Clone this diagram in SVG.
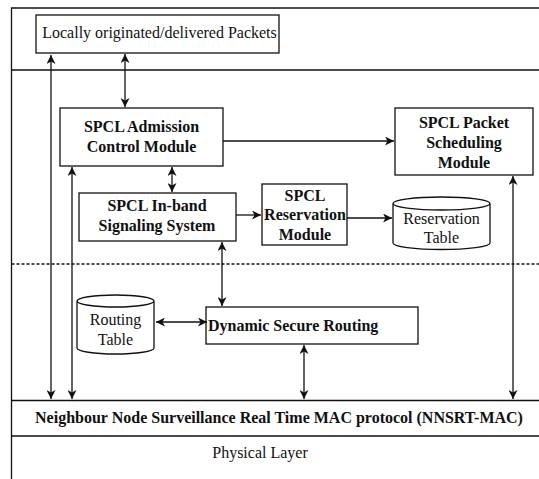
<svg xmlns="http://www.w3.org/2000/svg" width="539" height="479" viewBox="0 0 539 479">
<defs>
<marker id="ah" markerUnits="userSpaceOnUse" markerWidth="10" markerHeight="9" refX="9" refY="4.5" orient="auto-start-reverse">
<path d="M0,0 L9,4.5 L0,9 L2.5,4.5 z" fill="#111"/>
</marker>
</defs>
<style>
.ln{stroke:#111;stroke-width:1.3;fill:none}
.bx{stroke:#111;stroke-width:1.3;fill:#fff}
.c{stroke:#111;stroke-width:1.3;fill:none;marker-end:url(#ah)}
.d{marker-start:url(#ah)}
text{font-family:"Liberation Serif","Times New Roman",serif;font-size:16px;fill:#111;text-anchor:middle;dominant-baseline:central}
.b{font-weight:bold}
</style>
<rect width="539" height="479" fill="#fff"/>
<g id="frame">
<path class="ln" d="M11.5,479 V8 H539 M11.5,70 H539 M11.5,400.5 H539 M11.5,436 H539"/>
<path class="ln" d="M11.5,264 H539" stroke-dasharray="3,2"/>
</g>
<g id="locally"><rect class="bx" x="36" y="15" width="243" height="38"/><text x="159.5" y="32">Locally originated/delivered Packets</text></g>
<g id="admission"><rect class="bx" x="60" y="108" width="163" height="58"/><text class="b" x="141.5" y="126">SPCL Admission</text><text class="b" x="141.5" y="146">Control Module</text></g>
<g id="inband"><rect class="bx" x="79" y="193" width="157" height="48"/><text class="b" x="157" y="205">SPCL In-band</text><text class="b" x="157" y="225">Signaling System</text></g>
<g id="reservation"><rect class="bx" x="262" y="184" width="85" height="61"/><text class="b" x="305" y="195">SPCL</text><text class="b" x="305" y="214">Reservation</text><text class="b" x="305" y="234">Module</text></g>
<g id="restable"><path class="bx" d="M393,203.5 V243 A48.5,6.5 0 0 0 490,243 V203.5 A48.5,6.5 0 0 0 393,203.5 A48.5,6.5 0 0 0 490,203.5"/><text x="441.5" y="218">Reservation</text><text x="441.5" y="237">Table</text></g>
<g id="scheduling"><rect class="bx" x="395" y="108" width="138" height="67"/><text class="b" x="464" y="122">SPCL Packet</text><text class="b" x="464" y="142">Scheduling</text><text class="b" x="464" y="162">Module</text></g>
<g id="routingtable"><path class="bx" d="M77,301 V348 A38.5,6 0 0 0 154,348 V301 A38.5,6 0 0 0 77,301 A38.5,6 0 0 0 154,301"/><text x="115.5" y="319">Routing</text><text x="115.5" y="339">Table</text></g>
<g id="dynamic"><rect class="bx" x="206" y="307" width="212" height="37"/><text class="b" x="208" y="325" style="text-anchor:start">Dynamic Secure Routing</text></g>
<g id="mac"><text class="b" x="279" y="417">Neighbour Node Surveillance Real Time MAC protocol (NNSRT-MAC)</text></g>
<g id="physical"><text x="260" y="452">Physical Layer</text></g>
<g id="connectors">
<path class="c d" d="M51,55 V399"/>
<path class="c d" d="M125,54 V107"/>
<path class="c d" d="M72,167 V399"/>
<path class="c d" d="M172,167 V192"/>
<path class="c" d="M223,141 H394"/>
<path class="c" d="M236,215 H261"/>
<path class="c" d="M347,218 H392"/>
<path class="c d" d="M222,242 V306"/>
<path class="c d" d="M156,322 H207"/>
<path class="c d" d="M304,345 V399"/>
<path class="c d" d="M513,176 V399"/>
</g>
</svg>
